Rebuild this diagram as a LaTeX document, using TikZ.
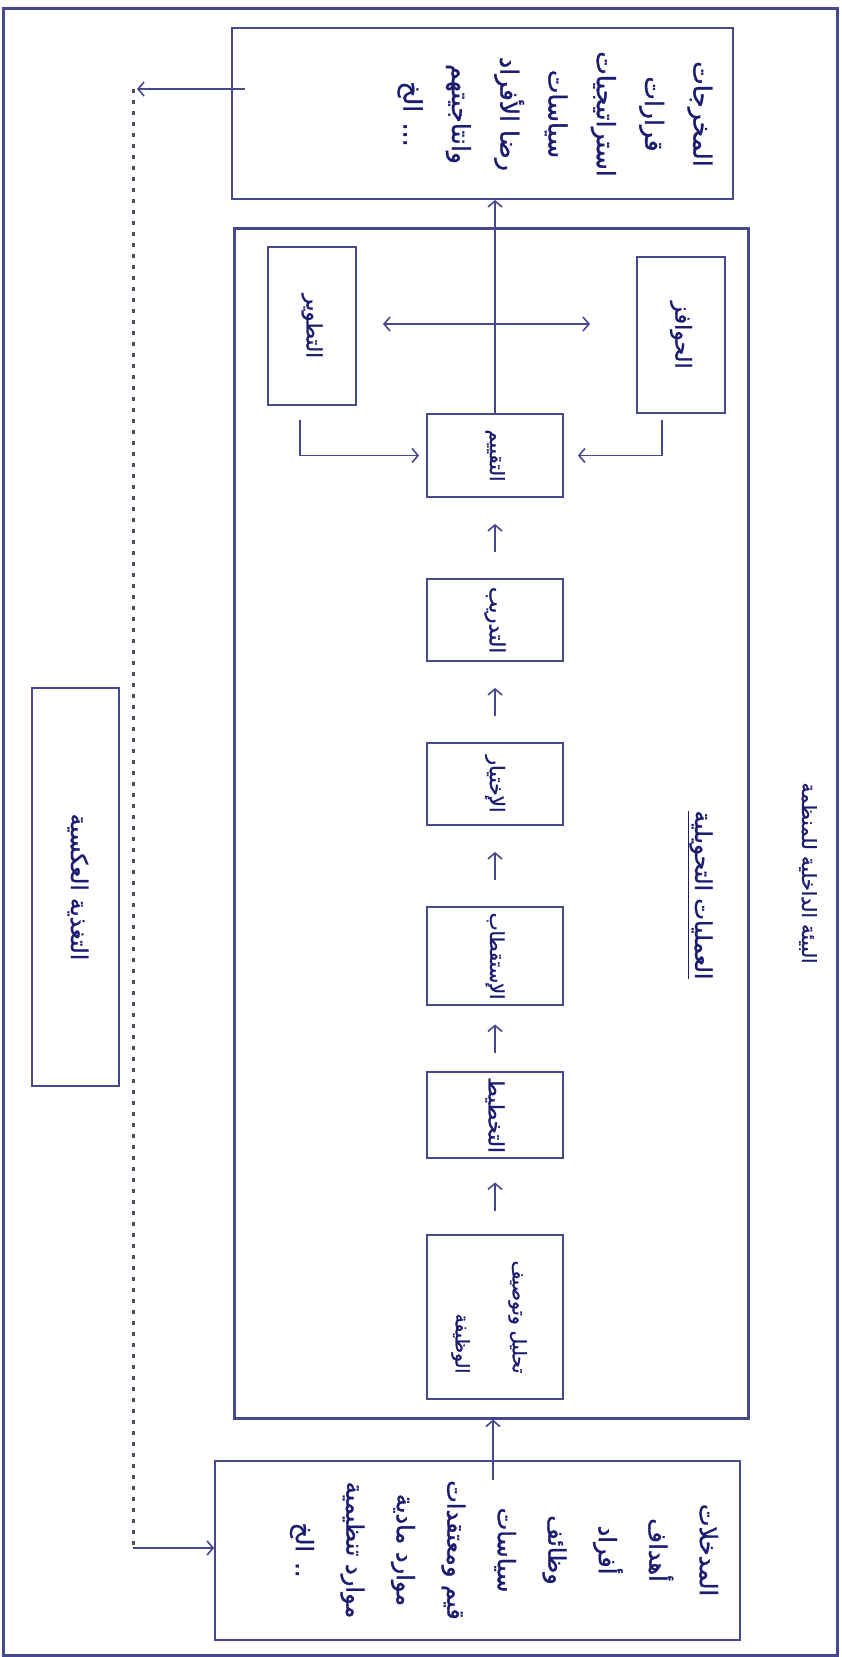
\documentclass[tikz,border=0pt]{standalone}
\usepackage{fontspec}
\usetikzlibrary{arrows.meta}
\TeXXeTstate=1
\newfontfamily\arabicfont[Script=Arabic, FakeBold=1.3]{DejaVu Sans}
\definecolor{linec}{RGB}{72,72,142}
\definecolor{txtc}{RGB}{28,28,112}
\definecolor{dotc}{RGB}{80,80,100}
\newcommand{\AR}[1]{\beginR #1\endR}
\newcommand{\fs}[1]{\arabicfont\fontsize{#1}{#1}\selectfont}
\begin{document}
\begin{tikzpicture}[x=1pt,y=-1pt,
  box/.style={draw=linec, line width=1.8pt, inner sep=0pt},
  bigbox/.style={draw=linec, line width=3pt, inner sep=0pt},
  lbl/.style={rotate=-90, text=txtc, inner sep=0pt},
  bigtxt/.style={lbl, align=center},
  arr/.style={draw=linec, line width=1.6pt, -{Straight Barb[length=6pt,width=14pt]}},
  darr/.style={draw=linec, line width=1.6pt, {Straight Barb[length=6pt,width=14pt]}-{Straight Barb[length=6pt,width=14pt]}},
  dotline/.style={draw=dotc, line width=3pt, dash pattern=on 4pt off 7pt},
]
\useasboundingbox (0,0) rectangle (841,1657);
\fill[white] (0,0) rectangle (841,1657);

% frames
\node[bigbox, minimum width=834pt, minimum height=1647pt] (frame) at (420,831.5) {};
\node[box, minimum width=501pt, minimum height=171pt] (out) at (482.5,113.5) {};
\node[bigbox, minimum width=514pt, minimum height=1190pt] (proc) at (491,823) {};
\node[box, minimum width=525pt, minimum height=179pt] (in) at (477.5,1550.5) {};
\node[box, minimum width=87pt, minimum height=398pt] (fb) at (75.5,887) {};

% inner boxes
\node[box, minimum width=88pt, minimum height=158pt] (dev) at (312,326) {};
\node[box, minimum width=88pt, minimum height=156pt] (mot) at (681,335) {};
\node[box, minimum width=136pt, minimum height=83pt] (ev) at (495,455.5) {};
\node[box, minimum width=136pt, minimum height=82pt] (tr) at (495,620) {};
\node[box, minimum width=136pt, minimum height=82pt] (sel) at (495,784) {};
\node[box, minimum width=136pt, minimum height=98pt] (rec) at (495,956) {};
\node[box, minimum width=136pt, minimum height=86pt] (pl) at (495,1115) {};
\node[box, minimum width=136pt, minimum height=164pt] (ja) at (495,1317) {};

% texts
\node[bigtxt, font=\arabicfont\fontsize{25}{48.3}\selectfont] (outT) at (555,114) {\AR{المخرجات}\\\AR{قرارات}\\\AR{استراتيجيات}\\\AR{سياسات}\\\AR{رضا الأفراد}\\\AR{وانتاجيتهم}\\\AR{... الخ}};
\node[bigtxt, font=\arabicfont\fontsize{24}{50.5}\selectfont] (inT) at (504,1550) {\AR{المدخلات}\\\AR{أهداف}\\\AR{أفراد}\\\AR{وظائف}\\\AR{سياسات}\\\AR{قيم ومعتقدات}\\\AR{موارد مادية}\\\AR{موارد تنظيمية}\\\AR{.. الخ}};
\node[lbl, font=\fs{19.5}] (title) at (808,873) {\AR{البيئة الداخلية للمنظمة}};
\node[lbl, font=\fs{23}] (sub) at (700,895) {\underline{\AR{العمليات التحويلية}}};
\node[lbl, font=\fs{23}] (fbT) at (78,887) {\AR{التغذية العكسية}};
\node[lbl, font=\fs{21}] (devT) at (dev.center) {\AR{التطوير}};
\node[lbl, font=\fs{22}] (motT) at (mot.center) {\AR{الحوافز}};
\node[lbl, font=\fs{19.5}] (evT) at (ev.center) {\AR{التقييم}};
\node[lbl, font=\fs{21}] (trT) at (tr.center) {\AR{التدريب}};
\node[lbl, font=\fs{20}] (selT) at (sel.center) {\AR{الإختيار}};
\node[lbl, font=\fs{19}] (recT) at (rec.center) {\AR{الإستقطاب}};
\node[lbl, font=\fs{21}] (plT) at (pl.center) {\AR{التخطيط}};
\node[lbl, align=right, font=\arabicfont\fontsize{18.5}{57}\selectfont] (jaT) at (489,1317) {\AR{تحليل وتوصيف}\\\AR{الوظيفة}};

% chain arrows
\draw[arr, shorten <=23.5pt, shorten >=23.5pt] (ja.north) -- (pl.south);
\draw[arr, shorten <=18.5pt, shorten >=18.5pt] (pl.north) -- (rec.south);
\draw[arr, shorten <=26pt, shorten >=26pt] (rec.north) -- (sel.south);
\draw[arr, shorten <=26pt, shorten >=26pt] (sel.north) -- (tr.south);
\draw[arr, shorten <=26pt, shorten >=26pt] (tr.north) -- (ev.south);

% evaluation to outputs
\draw[arr] (ev.north) -- (ev.north |- out.south);

% double arrow
\coordinate (hL) at (383,324);
\coordinate (hR) at (590,324);
\draw[darr] (hL) -- (hR);

% elbows into evaluation
\coordinate (dA) at (300,420);
\coordinate (mA) at (662,420);
\draw[arr] (dA) |- ([xshift=-7pt]ev.west);
\draw[arr] (mA) |- ([xshift=14pt]ev.east);

% inputs to processes
\coordinate (inA) at (493,1480);
\draw[arr] (inA) -- (inA |- proc.south);

% feedback loop
\coordinate (oA) at (245,89);
\coordinate (fbTop) at (133,89);
\coordinate (fbBot) at (133,1548);
\draw[arr] (oA) -- ([xshift=4pt]fbTop);
\draw[dotline] (fbTop) -- (fbBot);
\draw[arr] (fbBot) -- (fbBot -| in.west);
\end{tikzpicture}
\end{document}
